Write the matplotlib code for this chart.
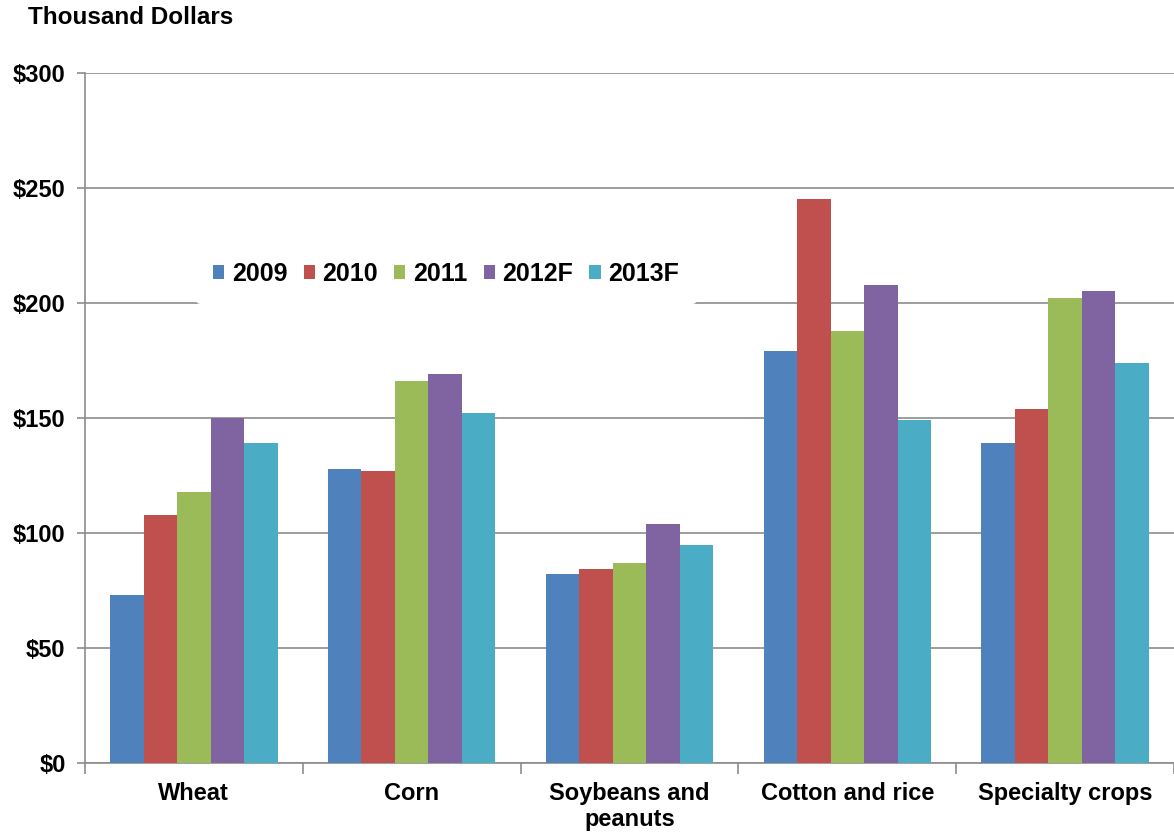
import numpy as np
import matplotlib
matplotlib.use("Agg")
import matplotlib.pyplot as plt

plt.rcParams['font.family'] = ['Liberation Sans', 'DejaVu Sans']
plt.rcParams['font.weight'] = 'bold'

categories = ['Wheat', 'Corn', 'Soybeans and\npeanuts', 'Cotton and rice', 'Specialty crops']
years = ['2009', '2010', '2011', '2012F', '2013F']
v2009 = [73, 128, 82, 179, 139]
v2010 = [108, 127, 84.5, 245, 154]
v2011 = [118, 166, 87, 188, 202]
v2012 = [150, 169, 104, 208, 205]
v2013 = [139, 152, 95, 149, 174]
series = [v2009, v2010, v2011, v2012, v2013]
colors = ['#4F81BD', '#C0504D', '#9BBB59', '#8064A2', '#4BACC6']

fig = plt.figure(figsize=(11.74, 8.36), dpi=100)
ax = fig.add_axes([85 / 1174, 1 - 763 / 836, 1 - 85 / 1174, (763 - 73) / 836])

x = np.arange(len(categories))
w = 1 / 6.5
for i, (vals, c) in enumerate(zip(series, colors)):
    ax.bar(x + (i - 2) * w, vals, width=w, color=c, label=years[i], zorder=3)

ax.set_xlim(-0.5, 4.5)
ax.set_ylim(0, 300)
ax.set_yticks(range(0, 301, 50))
ax.set_yticklabels(['$%d' % v for v in range(0, 301, 50)], fontsize=17, fontweight='bold')
ax.yaxis.grid(True, color='#8c8c8c', linewidth=1.2, zorder=0)
ax.set_xticks(x)
ax.set_xticklabels(categories, fontsize=17, fontweight='bold', linespacing=1.15)
ax.set_xticks(np.arange(-0.5, 5, 1), minor=True)
ax.tick_params(axis='x', which='major', length=0, pad=14)
ax.tick_params(axis='x', which='minor', length=8, color='#8c8c8c', width=1.2)
ax.tick_params(axis='y', length=6, color='#8c8c8c', width=1.2, pad=8)
for s in ['top', 'right']:
    ax.spines[s].set_visible(False)
for s in ['left', 'bottom']:
    ax.spines[s].set_color('#8c8c8c')
    ax.spines[s].set_linewidth(1.2)

fig.text(28 / 1174, 1 - 18 / 836, 'Thousand Dollars', fontsize=17.5, fontweight='bold',
         va='center', ha='left')

leg = ax.legend(loc='center', bbox_to_anchor=(446 / 1174, 1 - 274 / 836),
                bbox_transform=fig.transFigure, ncol=5, frameon=True,
                fontsize=18, handlelength=0.45, handleheight=0.45, handletextpad=0.3,
                columnspacing=0.65, borderpad=0.7)
leg.get_frame().set_edgecolor('none')
leg.get_frame().set_facecolor('white')
leg.get_frame().set_alpha(1)
leg.set_zorder(5)

fig.savefig('out.png', dpi=100)
